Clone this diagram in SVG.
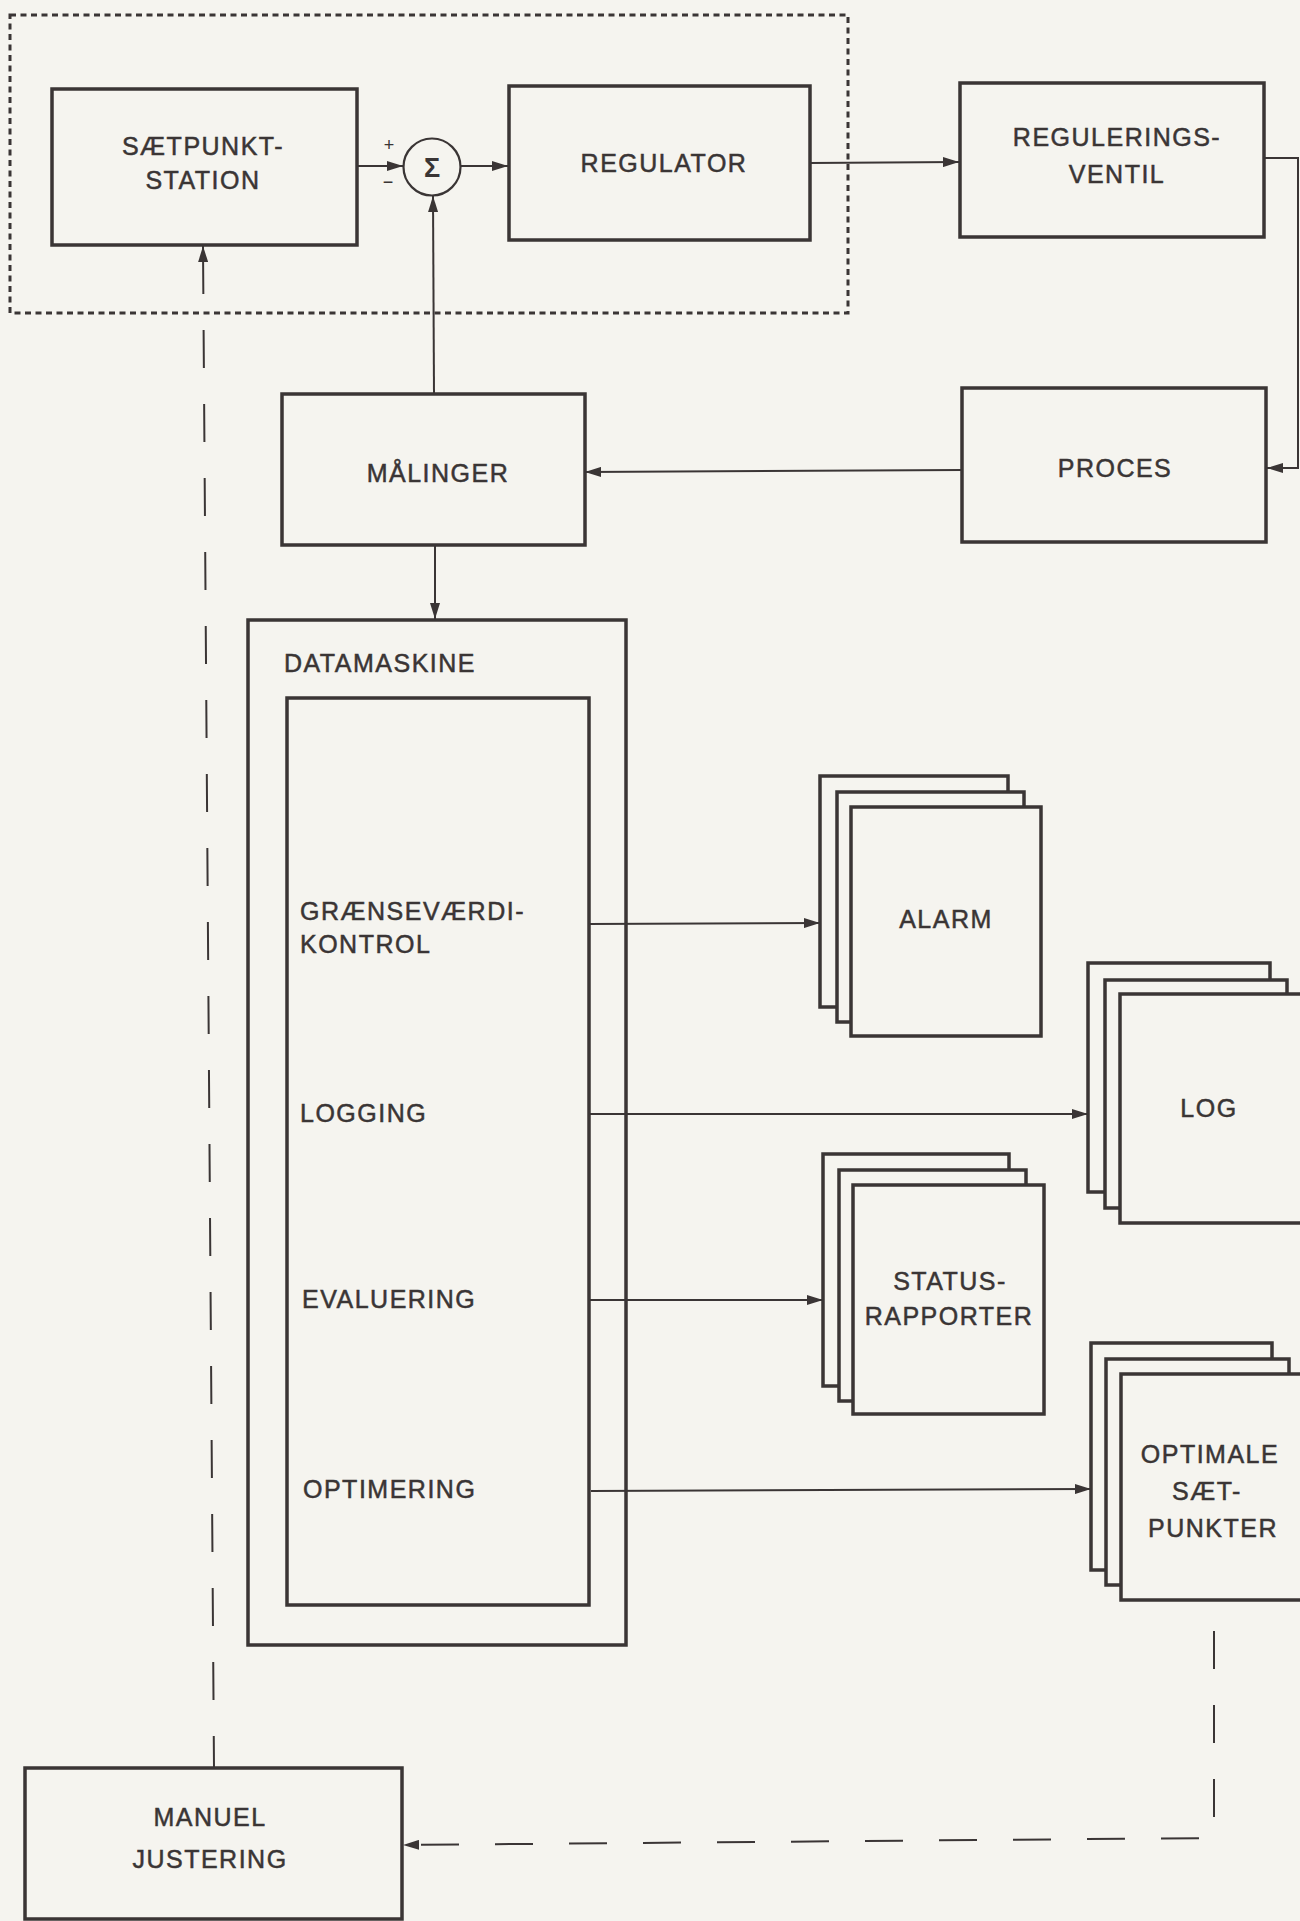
<svg xmlns="http://www.w3.org/2000/svg" width="1300" height="1921" viewBox="0 0 1300 1921">
<defs>
<style>
.bg{fill:#f5f4ef}
.box{fill:none;stroke:#3a3535;stroke-width:3.5}
.sheet{fill:#f5f4ef;stroke:#3a3535;stroke-width:3.5}
.ln{fill:none;stroke:#3a3535;stroke-width:2}
.dash{fill:none;stroke:#3a3535;stroke-width:2;stroke-dasharray:38 36}
.dot{fill:none;stroke:#3a3535;stroke-width:3;stroke-dasharray:6 4.5}
.t{font-family:"Liberation Sans",Arial,sans-serif;font-size:25px;fill:#3a3535;stroke:#3a3535;stroke-width:0.5;letter-spacing:1.5px}
.c{text-anchor:middle}
.s{font-family:"Liberation Sans",Arial,sans-serif;font-size:18px;fill:#3a3535;text-anchor:middle}
</style>
<marker id="ar" viewBox="0 0 16 10" refX="16" refY="5" markerWidth="16" markerHeight="10" markerUnits="userSpaceOnUse" orient="auto-start-reverse">
<path d="M0,0 L16,5 L0,10 Z" fill="#3a3535"/>
</marker>
</defs>
<rect class="bg" x="0" y="0" width="1300" height="1921"/>

<g id="frame">
<rect class="dot" x="10" y="15" width="838" height="298"/>
</g>

<g id="connectors">
<line class="ln" x1="357" y1="166" x2="403" y2="166" marker-end="url(#ar)"/>
<line class="ln" x1="461" y1="166" x2="508" y2="166" marker-end="url(#ar)"/>
<line class="ln" x1="810" y1="163" x2="959" y2="162" marker-end="url(#ar)"/>
<path class="ln" d="M1264,158 H1298 V468 H1267" marker-end="url(#ar)"/>
<line class="ln" x1="962" y1="470" x2="585" y2="472" marker-end="url(#ar)"/>
<line class="ln" x1="434" y1="394" x2="433" y2="196" marker-end="url(#ar)"/>
<line class="ln" x1="435" y1="545" x2="435" y2="619" marker-end="url(#ar)"/>
<line class="ln" x1="588" y1="924" x2="820" y2="923" marker-end="url(#ar)"/>
<line class="ln" x1="590" y1="1114" x2="1088" y2="1114" marker-end="url(#ar)"/>
<line class="ln" x1="590" y1="1300" x2="823" y2="1300" marker-end="url(#ar)"/>
<line class="ln" x1="591" y1="1491" x2="1091" y2="1489" marker-end="url(#ar)"/>
<path class="dash" d="M403,1845 L1214,1838 V1600" marker-start="url(#ar)" style="stroke-dashoffset:-18"/>
<path class="dash" d="M203,246 L214,1768" marker-start="url(#ar)" style="stroke-dasharray:48 36 38 36 38 36 38 36 38 36 38 36 38 36 38 36 38 36 38 36 38 36 38 36 38 36 38 36 38 36 38 36 38 36 38 36 38 36 38 36 38 36 38 36 38 36 38 36"/>
</g>

<g id="saetpunkt">
<rect class="box" x="52" y="89" width="305" height="156"/>
<text class="t c" x="203" y="155">SÆTPUNKT-</text>
<text class="t c" x="203" y="189">STATION</text>
</g>

<g id="sum">
<circle cx="432" cy="167" r="28.5" fill="none" stroke="#3a3535" stroke-width="2.2"/>
<text x="432" y="168" font-family="Liberation Sans, Arial, sans-serif" font-size="27" font-weight="bold" fill="#3a3535" text-anchor="middle" dominant-baseline="central">Σ</text>
<text class="s" x="389" y="151">+</text>
<text class="s" x="388" y="188">−</text>
</g>

<g id="regulator">
<rect class="box" x="509" y="86" width="301" height="154"/>
<text class="t c" x="664" y="172">REGULATOR</text>
</g>

<g id="ventil">
<rect class="box" x="960" y="83" width="304" height="154"/>
<text class="t c" x="1117" y="146">REGULERINGS-</text>
<text class="t c" x="1117" y="183">VENTIL</text>
</g>

<g id="proces">
<rect class="box" x="962" y="388" width="304" height="154"/>
<text class="t c" x="1115" y="477">PROCES</text>
</g>

<g id="malinger">
<rect class="box" x="282" y="394" width="303" height="151"/>
<text class="t c" x="438" y="482">MÅLINGER</text>
</g>

<g id="datamaskine">
<rect class="box" x="248" y="620" width="378" height="1025"/>
<text class="t" x="284" y="672">DATAMASKINE</text>
<rect class="box" x="287" y="698" width="302" height="907"/>
<text class="t" x="300" y="920">GRÆNSEVÆRDI-</text>
<text class="t" x="300" y="953">KONTROL</text>
<text class="t" x="300" y="1122">LOGGING</text>
<text class="t" x="302" y="1308">EVALUERING</text>
<text class="t" x="303" y="1498">OPTIMERING</text>
</g>

<g id="alarm">
<rect class="sheet" x="820" y="776" width="188" height="231"/>
<rect class="sheet" x="837" y="792" width="187" height="230"/>
<rect class="sheet" x="851" y="807" width="190" height="229"/>
<text class="t c" x="946" y="928">ALARM</text>
</g>

<g id="log">
<rect class="sheet" x="1088" y="963" width="182" height="229"/>
<rect class="sheet" x="1105" y="980" width="182" height="228"/>
<rect class="sheet" x="1120" y="994" width="200" height="229"/>
<text class="t c" x="1209" y="1117">LOG</text>
</g>

<g id="status">
<rect class="sheet" x="823" y="1154" width="186" height="232"/>
<rect class="sheet" x="839" y="1170" width="187" height="231"/>
<rect class="sheet" x="853" y="1185" width="191" height="229"/>
<text class="t c" x="950" y="1290">STATUS-</text>
<text class="t c" x="949" y="1325">RAPPORTER</text>
</g>

<g id="optimale">
<rect class="sheet" x="1091" y="1343" width="181" height="227"/>
<rect class="sheet" x="1106" y="1359" width="183" height="226"/>
<rect class="sheet" x="1121" y="1374" width="200" height="226"/>
<text class="t c" x="1210" y="1463">OPTIMALE</text>
<text class="t c" x="1207" y="1500">SÆT-</text>
<text class="t c" x="1213" y="1537">PUNKTER</text>
</g>

<g id="manuel">
<rect class="box" x="25" y="1768" width="377" height="151"/>
<text class="t c" x="210" y="1826">MANUEL</text>
<text class="t c" x="210" y="1868">JUSTERING</text>
</g>
</svg>
